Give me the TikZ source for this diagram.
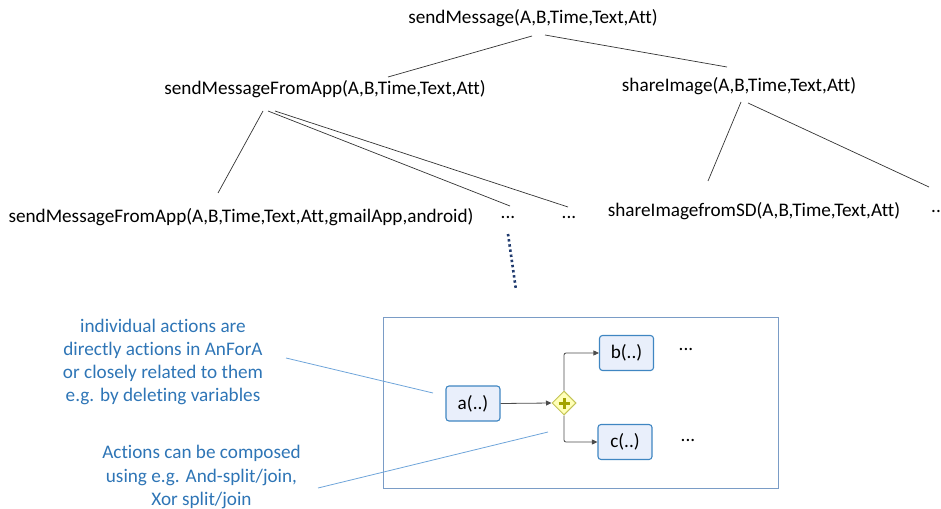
\documentclass[tikz,border=0pt]{standalone}
\usepackage{fontspec}
\setmainfont{Carlito}[Ligatures={NoCommon}]
\usetikzlibrary{arrows.meta,shapes.geometric}
\definecolor{notecol}{HTML}{2E75B6}
\definecolor{pointcol}{HTML}{6FA5DA}
\definecolor{framecol}{HTML}{7A9CC6}
\definecolor{actborder}{HTML}{3F86C2}
\definecolor{actfill}{HTML}{E9EFFB}
\definecolor{gatefill}{HTML}{FFFFB8}
\definecolor{gateborder}{HTML}{C4C455}
\definecolor{gateplus}{HTML}{A3A300}
\definecolor{dotcol}{HTML}{1F3A6E}
\begin{document}
\begin{tikzpicture}[x=1pt,y=-1pt,
  every node/.style={font=\fontsize{19.2}{22}\selectfont, inner sep=0pt},
  term/.style={text=black},
  treeline/.style={draw=black!80, line width=0.7pt},
  note/.style={text=notecol, align=center, font=\fontsize{19.2}{23.3}\selectfont},
  pointer/.style={draw=pointcol, line width=0.8pt},
  action/.style={draw=actborder, fill=actfill, line width=1.1pt, rounded corners=3pt,
                 minimum width=54pt, minimum height=35pt},
  flow/.style={draw=black!70, line width=0.8pt, rounded corners=2pt,
               -{Triangle[length=5.5pt,width=5pt]}},
  gate/.style={diamond, draw=gateborder, fill=gatefill, line width=1pt,
               minimum width=24pt, minimum height=24pt}]
\useasboundingbox (0,0) rectangle (941,508);

% goal tree
\node[term] (root) at (533,18) {sendMessage(A,B,Time,Text,Att)};
\node[term] (app) at (325,89) {sendMessageFromApp(A,B,Time,Text,Att)};
\node[term] (share) at (739,86) {shareImage(A,B,Time,Text,Att)};
\node[term] (gmail) at (241,217) {sendMessageFromApp(A,B,Time,Text,Att,gmailApp,android)};
\node[term] (dotsA) at (508,217) {...};
\node[term] (dotsB) at (569,217) {...};
\node[term] (sd) at (754,211) {shareImagefromSD(A,B,Time,Text,Att)};
\node[term, anchor=west] (dotsC) at (931,211) {..};

% branch end points
\coordinate (r1) at (532,36);  \coordinate (r1e) at (388,77);
\coordinate (r2) at (545,35);  \coordinate (r2e) at (727,67);
\coordinate (a1) at (263,111); \coordinate (a1e) at (218,193);
\coordinate (a2) at (268,111); \coordinate (a2e) at (510,206);
\coordinate (a3) at (275,111); \coordinate (a3e) at (568,207);
\coordinate (s1) at (741,102); \coordinate (s1e) at (708,181);
\coordinate (s2) at (748,103); \coordinate (s2e) at (929,187);

\draw[treeline] (r1) -- (r1e);
\draw[treeline] (r2) -- (r2e);
\draw[treeline] (a1) -- (a1e);
\draw[treeline] (a2) -- (a2e);
\draw[treeline] (a3) -- (a3e);
\draw[treeline] (s1) -- (s1e);
\draw[treeline] (s2) -- (s2e);

% refinement of the first "..."
\coordinate (zoomTop) at (508,234);
\coordinate (zoomEnd) at (516,290);
\draw[dotcol, line width=2.6pt, dash pattern=on 2.4pt off 2.8pt] (zoomTop) -- (zoomEnd);

% composed actions
\node[draw=framecol, line width=0.8pt, minimum width=395pt, minimum height=171pt]
  (frame) at (580.5,402.5) {};
\node[action] (a) at (473,403.5) {a(..)};
\node[action] (b) at (626.5,353) {b(..)};
\node[action] (c) at (625,442) {c(..)};
\node[gate] (g) at (564,403) {};
\draw[gateplus, line width=3pt] ([xshift=-5.5pt]g.center) -- ([xshift=5.5pt]g.center);
\draw[gateplus, line width=3pt] ([yshift=-5.5pt]g.center) -- ([yshift=5.5pt]g.center);
\node[term] (bdots) at (686,349) {...};
\node[term] (cdots) at (688,440) {...};

\draw[flow] (a.east) -- (g.west);
\draw[flow] (g.north) |- (b.west);
\draw[flow] (g.south) |- (c.west);

% notes
\node[note] (note1) at (163,362) {individual actions are\\directly actions in AnForA\\or closely related to them\\e.g. by deleting variables};
\node[note] (note2) at (201.5,477) {Actions can be composed\\using e.g. And-split/join,\\Xor split/join};
\coordinate (p1) at (286,358); \coordinate (p1e) at (433,393);
\coordinate (p2) at (318,488); \coordinate (p2e) at (548,432);
\draw[pointer] (p1) -- (p1e);
\draw[pointer] (p2) -- (p2e);
\end{tikzpicture}
\end{document}
